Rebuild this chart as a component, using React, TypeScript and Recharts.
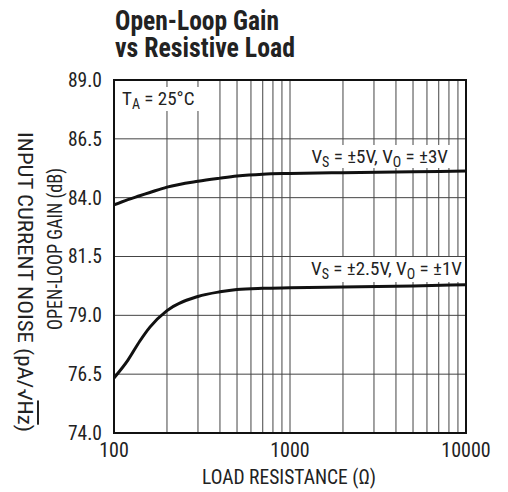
import { CartesianGrid, Line, LineChart, XAxis, YAxis } from 'recharts';

const resistance = [100, 120, 140, 160, 200, 300, 400, 500, 700, 1000, 2000, 5000, 10000];
const gain5V = [83.69, 83.92, 84.08, 84.22, 84.45, 84.7, 84.83, 84.92, 85.0, 85.03, 85.06, 85.1, 85.13];
const gain2p5V = [76.34, 77.1, 77.9, 78.5, 79.2, 79.8, 80.0, 80.1, 80.15, 80.17, 80.2, 80.25, 80.3];

const xTicks = [
  100, 200, 300, 400, 500, 600, 700, 800, 900, 1000, 2000, 3000, 4000, 5000, 6000, 7000, 8000, 9000,
  10000,
];
const xLabels = [100, 1000, 10000];
const yTicks = [74, 76.5, 79, 81.5, 84, 86.5, 89];

const data = resistance.map((r, i) => ({ r, a: gain5V[i], b: gain2p5V[i] }));

const FONT = '"Liberation Sans Narrow", "Roboto Condensed", "DejaVu Sans Condensed", "Arial Narrow", sans-serif';

export default function App() {
  return (
    <div style={{ position: 'absolute', left: 0, top: 0, width: 508, height: 492, background: '#fff', fontFamily: FONT }}>
      <LineChart width={508} height={492} data={data} margin={{ top: 80, right: 42, bottom: 0, left: 0 }}>
        <CartesianGrid stroke="#444" strokeWidth={1} />
        <XAxis
          dataKey="r"
          type="number"
          scale="log"
          domain={[100, 10000]}
          ticks={xTicks}
          interval={0}
          tickFormatter={(v) => (xLabels.includes(v) ? String(v) : '')}
          tickLine={false}
          axisLine={false}
          tickMargin={4}
          height={59}
          tick={{ fill: '#222', fontSize: 20, fontFamily: FONT }}
          allowDataOverflow
        />
        <YAxis
          type="number"
          domain={[74, 89]}
          ticks={yTicks}
          interval={0}
          tickFormatter={(v) => v.toFixed(1)}
          tickLine={false}
          axisLine={false}
          tickMargin={6}
          width={114}
          tick={{ fill: '#222', fontSize: 19.5, fontFamily: FONT }}
        />
        <Line type="monotone" dataKey="a" stroke="#111" strokeWidth={3} dot={false} isAnimationActive={false} />
        <Line type="monotone" dataKey="b" stroke="#111" strokeWidth={3} dot={false} isAnimationActive={false} />
      </LineChart>
      <svg width={508} height={492} style={{ position: 'absolute', left: 0, top: 0 }}>
        <g fontFamily={FONT} fill="#222">
          <text x={115} y={30} fontSize={27} fontWeight="bold" textLength={164} lengthAdjust="spacingAndGlyphs">
            Open-Loop Gain
          </text>
          <text x={115} y={57} fontSize={27} fontWeight="bold" textLength={180} lengthAdjust="spacingAndGlyphs">
            vs Resistive Load
          </text>

          <rect x={119} y={87} width={81} height={24} fill="#fff" />
          <text x={122} y={105} fontSize={19}>
            T<tspan fontSize={14} dy={4}>A</tspan>
            <tspan dy={-4}> = 25°C</tspan>
          </text>

          <rect x={296} y={145} width={159} height={23} fill="#fff" />
          <text x={448} y={163} fontSize={19} textAnchor="end">
            V<tspan fontSize={14} dy={4}>S</tspan>
            <tspan dy={-4}> = ±5V, V</tspan>
            <tspan fontSize={14} dy={4}>O</tspan>
            <tspan dy={-4}> = ±3V</tspan>
          </text>

          <rect x={292} y={257} width={173} height={25} fill="#fff" />
          <text x={462} y={275} fontSize={19} textAnchor="end">
            V<tspan fontSize={14} dy={4}>S</tspan>
            <tspan dy={-4}> = ±2.5V, V</tspan>
            <tspan fontSize={14} dy={4}>O</tspan>
            <tspan dy={-4}> = ±1V</tspan>
          </text>

          <rect x={114} y={80} width={352} height={353} fill="none" stroke="#111" strokeWidth={2} />

          <text x={202} y={484} fontSize={20} textLength={174} lengthAdjust="spacingAndGlyphs">
            LOAD RESISTANCE (Ω)
          </text>
          {/* rotated axis titles: start points picked so they run over the same span as in the reference */}
          <text
            x={-330}
            y={55}
            fontSize={20}
            textLength={162}
            lengthAdjust="spacingAndGlyphs"
            transform="rotate(-90)"
            dominantBaseline="central"
          >
            OPEN-LOOP GAIN (dB)
          </text>
          <text
            x={132}
            y={-25}
            fontSize={20}
            textLength={300}
            lengthAdjust="spacingAndGlyphs"
            transform="rotate(90)"
            dominantBaseline="central"
          >
            INPUT CURRENT NOISE (pA/√<tspan textDecoration="overline">Hz</tspan>)
          </text>
        </g>
      </svg>
    </div>
  );
}
